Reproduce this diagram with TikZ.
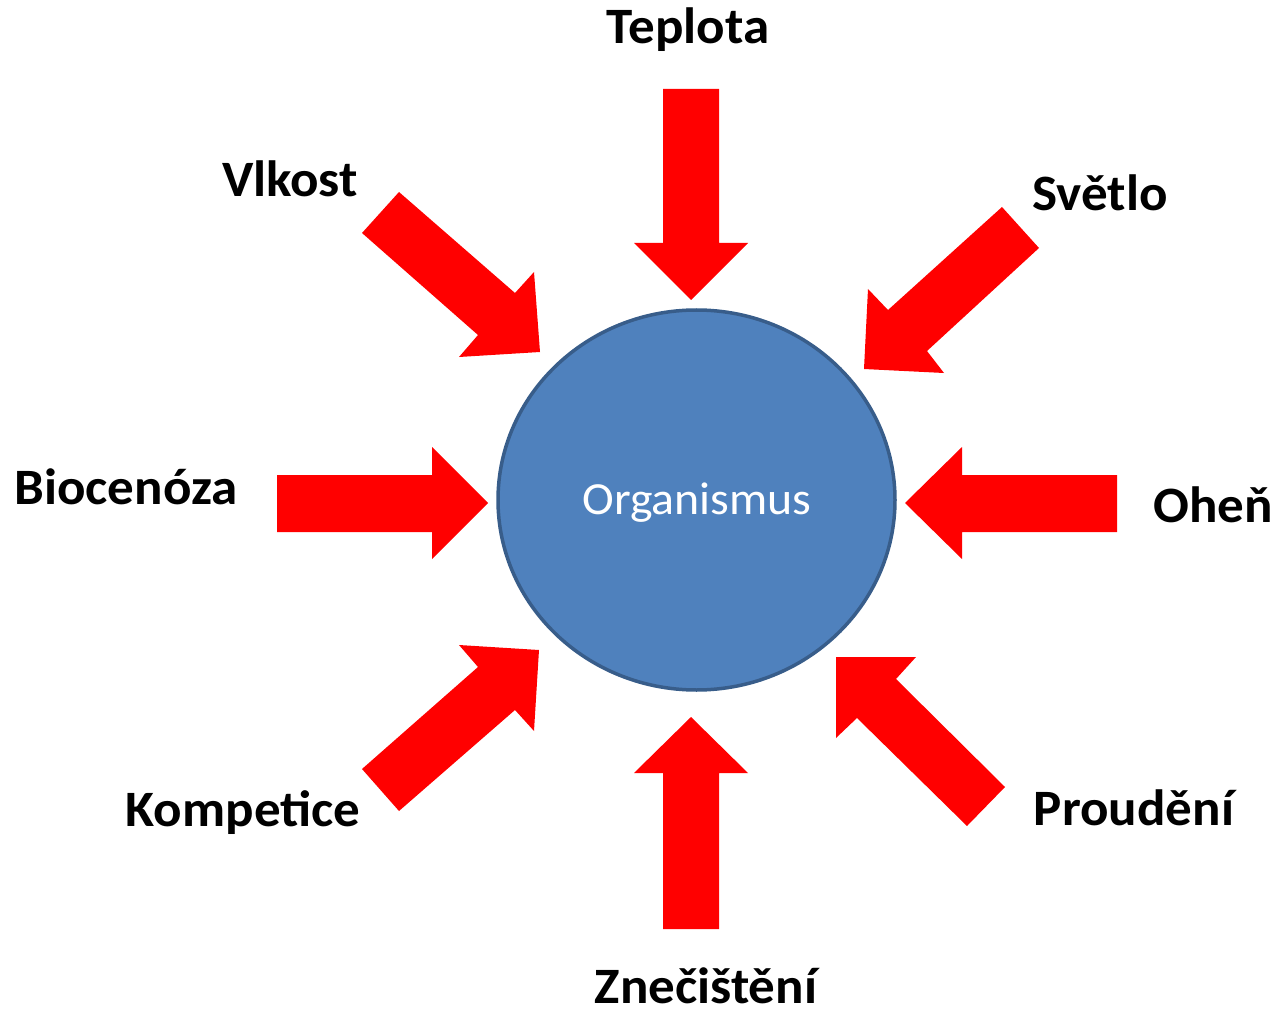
\documentclass[tikz,border=0pt]{standalone}
\usepackage{fontspec}
\setmainfont[FakeStretch=1.04]{Carlito}
\definecolor{arrowred}{HTML}{FF0000}
\definecolor{orgfill}{HTML}{4F81BD}
\definecolor{orgline}{HTML}{385D8A}
\usetikzlibrary{shapes.geometric}
\tikzset{
  blockarrow/.style={fill=arrowred, draw=none},
  factor/.style={anchor=base, inner sep=0pt, font=\fontsize{51}{60}\selectfont\bfseries},
  organism/.style={ellipse, fill=orgfill, draw=orgline, line width=3.5pt, minimum width=397pt, minimum height=380pt, inner sep=0pt},
}
\begin{document}
\begin{tikzpicture}[x=1pt,y=-1pt]
\useasboundingbox (0,0) rectangle (1278,1011);
% central organism
\node[organism] (org) at (696.5,500) {};
\node[inner sep=0pt, text=white, font=\fontsize{46}{55}\selectfont] (orgtext) at (697,503) {Organismus};
% straight arrows
\fill[blockarrow] (663,89) -- (719,89) -- (719,243) -- (748,243) -- (691,300) -- (634,243) -- (663,243) -- cycle; % Teplota
\fill[blockarrow] (663,929) -- (719,929) -- (719,773) -- (748,773) -- (691,717) -- (634,773) -- (663,773) -- cycle; % Znecisteni
\fill[blockarrow] (277,475) -- (432,475) -- (432,447) -- (488,503) -- (432,559) -- (432,532) -- (277,532) -- cycle; % Biocenoza
\fill[blockarrow] (1117,475) -- (962,475) -- (962,447) -- (905,503) -- (962,559) -- (962,532) -- (1117,532) -- cycle; % Ohen
% diagonal arrows
\fill[blockarrow] (399,192) -- (515,293) -- (534,272) -- (540,352) -- (459,357) -- (478,335) -- (362,233) -- cycle; % Vlkost
\fill[blockarrow] (1002,207) -- (1039,248) -- (927,351) -- (944,373) -- (864,369) -- (868,289) -- (888,310) -- cycle; % Svetlo
\fill[blockarrow] (459,645) -- (539,650) -- (534,731) -- (515,710) -- (399,811) -- (362,769) -- (478,667) -- cycle; % Kompetice
\fill[blockarrow] (836,657) -- (916,657) -- (896,679) -- (1005,787) -- (967,826) -- (857,718) -- (836,738) -- cycle; % Proudeni
% labels
\node[factor] (teplota) at (688,44) {Teplota};
\node[factor] (vlkost) at (290,197) {Vlkost};
\node[factor] (svetlo) at (1100,211) {Světlo};
\node[factor] (biocenoza) at (126,504) {Biocenóza};
\node[factor] (ohen) at (1213,522) {Oheň};
\node[factor] (kompetice) at (243,826) {Kompetice};
\node[factor] (proudeni) at (1134,825) {Proudění};
\node[factor] (znecisteni) at (706,1003) {Znečištění};
\end{tikzpicture}
\end{document}
